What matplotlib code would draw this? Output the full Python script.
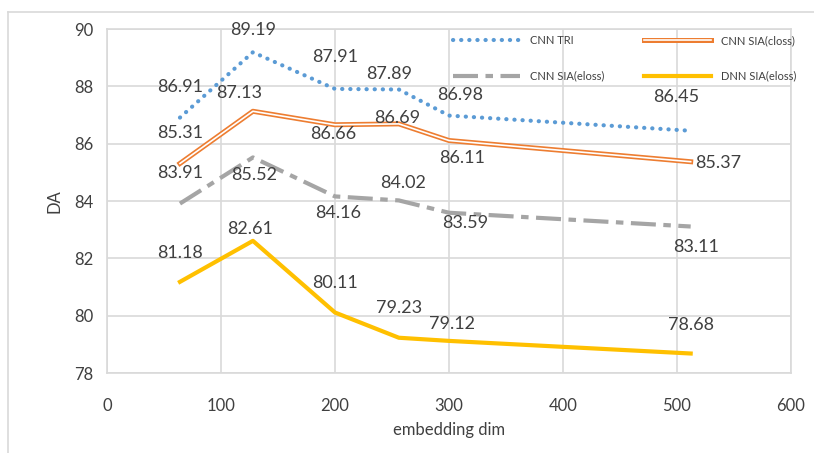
import matplotlib.pyplot as plt
from matplotlib.lines import Line2D

plt.rcParams['font.family'] = ['Lato', 'DejaVu Sans']

# data
dims = [64, 128, 200, 256, 300, 512]
cnn_tri = [86.91, 89.19, 87.91, 87.89, 86.98, 86.45]
cnn_sia_closs = [85.31, 87.13, 86.66, 86.69, 86.11, 85.37]
cnn_sia_eloss = [83.91, 85.52, 84.16, 84.02, 83.59, 83.11]
dnn_sia_eloss = [81.18, 82.61, 80.11, 79.23, 79.12, 78.68]

# label offsets in pixels (dx right, dy down), one per point
off_tri = [(0, -31), (0, -22), (0, -32), (-10, -15), (11, -21), (-14, -34)]
off_closs = [(0, -30), (-14, -18), (-2, 9), (-2, -6), (13, 17), (28, 1)]
off_eloss = [(0, -31), (1, 18), (3, 17), (4, -17), (16, 10), (5, 20)]
off_dnn = [(0, -29), (-3, -12), (0, -30), (0, -30), (3, -17), (0, -29)]

txt = '#404040'
grid = '#D9D9D9'

fig = plt.figure(figsize=(8.14, 4.53), dpi=100)
ax = fig.add_axes([107/814, 1-373/453, (791-107)/814, (373-29)/453])

ax.plot(dims, cnn_tri, color='#5B9BD5', lw=3, linestyle=(0, (0.05, 1.9)),
        dash_capstyle='round', zorder=3)
ax.plot(dims, cnn_sia_closs, color='#ED7D31', lw=3.6, zorder=3)
ax.plot(dims, cnn_sia_closs, color='white', lw=1.2, zorder=3)
ax.plot(dims, cnn_sia_eloss, color='#A5A5A5', lw=3, linestyle=(0, (6, 1.8, 1.8, 1.8)),
        dash_capstyle='butt', zorder=3)
ax.plot(dims, dnn_sia_eloss, color='#FFC000', lw=3, zorder=3)

for ys, offs in [(cnn_tri, off_tri), (cnn_sia_closs, off_closs),
                 (cnn_sia_eloss, off_eloss), (dnn_sia_eloss, off_dnn)]:
    for x, y, (dx, dy) in zip(dims, ys, offs):
        ax.annotate(f'{y:.2f}', (x, y), xytext=(dx, -dy), textcoords='offset pixels',
                    ha='center', va='center', fontsize=13, color=txt, zorder=4)

ax.set_xlim(0, 600)
ax.set_ylim(78, 90)
ax.set_xticks(range(0, 601, 100))
ax.set_yticks(range(78, 91, 2))
ax.grid(True, color=grid, lw=1.2)
ax.set_axisbelow(True)
for s in ax.spines.values():
    s.set_color(grid)
    s.set_linewidth(1.2)
ax.tick_params(length=0, labelsize=12, labelcolor=txt)
ax.tick_params(axis='x', pad=18)
ax.tick_params(axis='y', pad=10)
ax.set_xlabel('embedding dim', fontsize=12, color=txt, labelpad=6)
ax.set_ylabel('DA', fontsize=12, color=txt, labelpad=8)

h_tri = Line2D([], [], color='#5B9BD5', lw=3, linestyle=(0, (0.05, 1.9)), dash_capstyle='round')
h_closs = (Line2D([], [], color='#ED7D31', lw=3.6), Line2D([], [], color='white', lw=1.2))
h_eloss = Line2D([], [], color='#A5A5A5', lw=3, linestyle=(0, (6, 1.8, 1.8, 1.8)))
h_dnn = Line2D([], [], color='#FFC000', lw=3)
ax.legend([h_tri, h_eloss, h_closs, h_dnn],
          ['CNN TRI', 'CNN SIA(eloss)', 'CNN SIA(closs)', 'DNN SIA(eloss)'],
          ncol=2, frameon=False, fontsize=8, labelcolor=txt,
          loc='upper left', bbox_to_anchor=(453/814, 1-35/453), bbox_transform=fig.transFigure,
          borderpad=0, borderaxespad=0, handlelength=6.0, handletextpad=0.9,
          columnspacing=3.6, labelspacing=2.2)

# outer chart frame (left and top edges visible)
fig.add_artist(Line2D([8/814, 8/814], [0, 1-12/453], color=grid, lw=1.2))
fig.add_artist(Line2D([8/814, 1], [1-12/453, 1-12/453], color=grid, lw=1.2))

fig.savefig('out.png', dpi=100)
